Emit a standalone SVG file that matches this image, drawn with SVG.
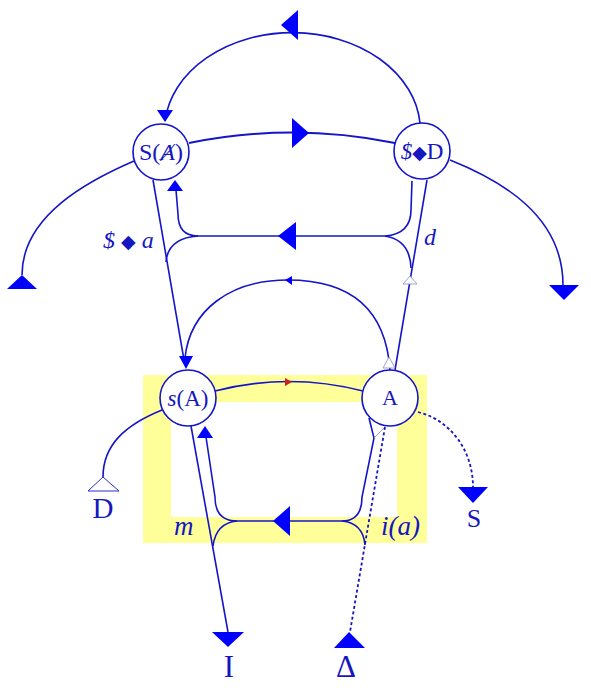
<svg xmlns="http://www.w3.org/2000/svg" width="591" height="693" viewBox="0 0 591 693">
<style>
.ln{fill:none;stroke:#1414c8;stroke-width:1.6}
.thk{fill:none;stroke:#1414c8;stroke-width:2}
.dot{fill:none;stroke:#1414c8;stroke-width:1.8;stroke-dasharray:3 2.5}
.ah{fill:#0000ff;stroke:none}
.hol{fill:#fff;stroke:#8c8cc0;stroke-width:0.8}
.nd{fill:#fff;stroke:#1414c8;stroke-width:1.6}
.t{font-family:"Liberation Serif","DejaVu Serif",serif;fill:#1616c0}
.i{font-style:italic}
</style>
<rect x="143" y="375" width="284" height="168" fill="#ffff99"/>
<rect x="171" y="402" width="226" height="115" fill="#ffffff"/>
<g id="connectors">
<path class="ln" d="M420,123 A128,98 0 0 0 165,121"/>
<polygon class="ah" points="281,25 298,10 298,40"/>
<polygon class="ah" points="165,122 157,110 173,110"/>
<path class="thk" d="M189,143 Q292,122 395,143"/>
<polygon class="ah" points="309,133 292,118 292,148"/>
<path class="ln" d="M134,161 C90,180 22,215 22,275"/>
<polygon class="ah" points="22,275 7,289 37,289"/>
<path class="ln" d="M450,160 C500,180 563,215 563,285"/>
<polygon class="ah" points="549,285 579,285 564,300"/>
<path class="ln" d="M198,236 L385,236"/>
<polygon class="ah" points="278,236 296,222 296,250"/>
<path class="ln" d="M198,236 Q178,236 178,214 L176,190"/>
<polygon class="ah" points="175,180 167,191 183,191"/>
<path class="ln" d="M198,236 Q168,238 166,262"/>
<path class="ln" d="M385,236 Q411,234 411,210 L412,181"/>
<path class="ln" d="M385,236 Q410,240 411,268"/>
<path class="ln" d="M153,180 L184,360"/>
<path class="ln" d="M427,180 L395,370"/>
<polygon class="hol" points="410,276 403,284 417,284"/>
<path class="ln" d="M390,370 C385,300 340,280 288,280 C230,280 190,310 185,358"/>
<polygon class="hol" points="389,357 383,368 395,368"/>
<polygon class="ah" points="285,280 292,276 292,285"/>
<polygon class="ah" points="186,369 179,356 193,356"/>
<path class="ln" d="M215,391 Q289,372 363,391"/>
<polygon points="292,382 285,378 285,386" fill="#cc2222"/>
<path class="ln" d="M237,521 L342,521"/>
<polygon class="ah" points="273,521 290,506 290,536"/>
<path class="ln" d="M237,521 Q215,521 215,497 L206,437"/>
<polygon class="ah" points="205,426 197,438 213,438"/>
<path class="ln" d="M237,521 Q216,523 213,546"/>
<path class="ln" d="M191,426 L228,632"/>
<polygon class="ah" points="212,632 244,632 228,647"/>
<path class="ln" d="M342,521 Q362,521 362,497 L374,438 L369,418"/>
<polyline class="hol" fill="none" points="374,438 385,427"/>
<path class="ln" d="M342,521 Q363,523 365,545"/>
<path class="dot" d="M385,427 L350,632"/>
<polygon class="ah" points="349,632 334,648 365,648"/>
<path class="dot" d="M418,412 C450,420 473,450 473,487"/>
<polygon class="ah" points="458,487 488,487 473,503"/>
<path class="ln" d="M162,410 C125,425 103,445 103,477"/>
<polygon points="103,477 88,491 119,491" fill="#fff" stroke="#1414c8" stroke-width="0.9"/>
</g>
<g id="node-SA">
<circle class="nd" cx="161" cy="152" r="28"/>
<text class="t" x="161" y="160" font-size="24" text-anchor="middle">S(<tspan class="i">Ⱥ</tspan>)</text>
</g>
<g id="node-SD">
<circle class="nd" cx="422" cy="151" r="28"/>
<text class="t" x="422" y="159" font-size="23" text-anchor="middle"><tspan class="i">$</tspan><tspan font-size="19">◆</tspan>D</text>
</g>
<g id="node-sA">
<circle class="nd" cx="188" cy="398" r="28"/>
<text class="t" x="188" y="406" font-size="23" text-anchor="middle"><tspan class="i">s</tspan>(A)</text>
</g>
<g id="node-A">
<circle class="nd" cx="390" cy="398" r="28"/>
<text class="t" x="390" y="405" font-size="22" text-anchor="middle">A</text>
</g>
<g id="labels">
<text class="t" x="103" y="248" font-size="24"><tspan class="i">$</tspan> <tspan font-size="19">◆</tspan> <tspan class="i">a</tspan></text>
<text class="t i" x="424" y="245" font-size="24">d</text>
<text class="t i" x="174" y="535" font-size="27">m</text>
<text class="t i" x="381" y="535" font-size="27">i(a)</text>
<text class="t" x="103" y="518" font-size="29" text-anchor="middle">D</text>
<text class="t" x="474" y="527" font-size="26" text-anchor="middle">S</text>
<text class="t" x="229" y="677" font-size="31" text-anchor="middle">I</text>
<text class="t" x="346" y="677" font-size="31" text-anchor="middle">Δ</text>
</g>
</svg>
